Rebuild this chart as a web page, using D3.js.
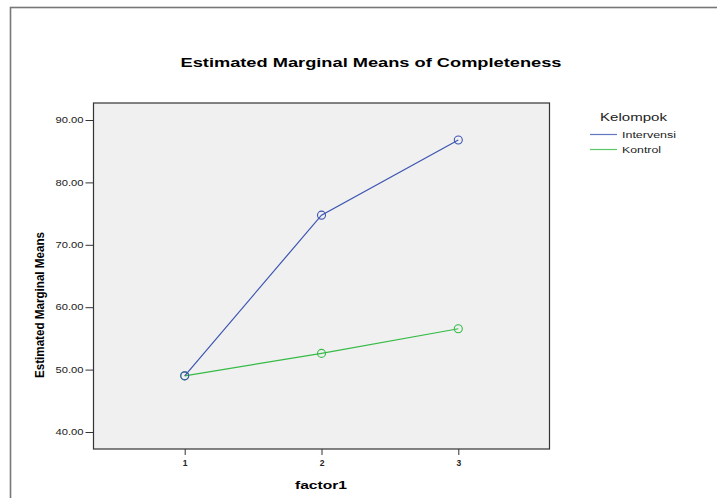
<!DOCTYPE html>
<html><head><meta charset="utf-8">
<script src="https://cdn.jsdelivr.net/npm/d3@7"></script>
<style>body{margin:0;background:#fff}svg{display:block}</style>
</head><body>
<script>
const categories = [1, 2, 3];
const intervensi = [49.0, 74.75, 86.8];
const kontrol = [49.0, 52.6, 56.55];
const yTicks = [40, 50, 60, 70, 80, 90];
const seriesNames = ["Intervensi", "Kontrol"];
const seriesColors = ["#3d55b2", "#35bb45"];

const W = 717, H = 498;
const svg = d3.select("body").append("svg").attr("width", W).attr("height", H);
const font = "Liberation Sans, Arial, sans-serif";

// outer frame
svg.append("rect").attr("x", 10.5).attr("y", 7.5).attr("width", 720).attr("height", 500)
  .attr("fill", "none").attr("stroke", "#777").attr("stroke-width", 1.6);

const L = 93.5, R = 549.5, T = 103, B = 449;
const x = d3.scaleLinear().domain([1/3, 11/3]).range([L, R]);
const y = d3.scaleLinear().domain([40 - 17/6.24, 90 + 17/6.24]).range([B, T]);

svg.append("rect").attr("x", L).attr("y", T).attr("width", R - L).attr("height", B - T)
  .attr("fill", "#f0f0f0").attr("stroke", "#333").attr("stroke-width", 1.2);

// title
svg.append("text").attr("x", 371).attr("y", 67).attr("text-anchor", "middle")
  .attr("font-family", font).attr("font-weight", "bold").attr("font-size", 13)
  .attr("textLength", 381).attr("lengthAdjust", "spacingAndGlyphs")
  .attr("fill", "#000").text("Estimated Marginal Means of Completeness");

// y axis
const yAxis = d3.axisLeft(y).tickValues(yTicks).tickFormat(d3.format(".2f")).tickSize(8).tickPadding(2);
const gy = svg.append("g").attr("transform", `translate(${L},0)`).call(yAxis);
gy.select(".domain").remove();
gy.selectAll("line").attr("stroke", "#333");
gy.selectAll("text").attr("font-family", font).attr("font-size", 8.5).attr("fill", "#222")
  .attr("textLength", 28).attr("lengthAdjust", "spacingAndGlyphs");

// x axis
const xAxis = d3.axisBottom(x).tickValues(categories).tickFormat(d3.format("d")).tickSize(6).tickPadding(5);
const gx = svg.append("g").attr("transform", `translate(0,${B})`).call(xAxis);
gx.select(".domain").remove();
gx.selectAll("line").attr("stroke", "#333");
gx.selectAll("text").attr("font-family", font).attr("font-size", 8.5).attr("font-weight", "bold").attr("fill", "#222");

// axis titles
svg.append("text").attr("x", 321).attr("y", 489).attr("text-anchor", "middle")
  .attr("font-family", font).attr("font-weight", "bold").attr("font-size", 11.5)
  .attr("textLength", 52).attr("lengthAdjust", "spacingAndGlyphs")
  .text("factor1");
svg.append("text").attr("transform", "translate(44,305) rotate(-90)").attr("text-anchor", "middle")
  .attr("font-family", font).attr("font-weight", "bold").attr("font-size", 13)
  .attr("textLength", 146).attr("lengthAdjust", "spacingAndGlyphs")
  .text("Estimated Marginal Means");

// series
const data = [intervensi, kontrol];
const line = d3.line().x((d, i) => x(categories[i])).y(d => y(d));
data.slice().reverse().forEach((vals, ri) => {
  const i = data.length - 1 - ri;
  svg.append("path").datum(vals).attr("d", line).attr("fill", "none")
    .attr("stroke", seriesColors[i]).attr("stroke-width", 1.2);
  svg.selectAll(null).data(vals).enter().append("circle")
    .attr("cx", (d, j) => x(categories[j])).attr("cy", d => y(d)).attr("r", 4)
    .attr("fill", "none").attr("stroke", seriesColors[i]).attr("stroke-width", 1.1);
});

// legend
svg.append("text").attr("x", 600).attr("y", 121).attr("font-family", font).attr("font-size", 10.5)
  .attr("textLength", 67).attr("lengthAdjust", "spacingAndGlyphs")
  .attr("fill", "#222").text("Kelompok");
const legLens = [54, 39];
seriesNames.forEach((n, i) => {
  const yy = 134.5 + i * 15;
  svg.append("line").attr("x1", 590).attr("x2", 617).attr("y1", yy).attr("y2", yy)
    .attr("stroke", seriesColors[i]).attr("stroke-width", 1.2).attr("opacity", 0.8);
  svg.append("text").attr("x", 622).attr("y", yy + 3).attr("font-family", font).attr("font-size", 8.5)
    .attr("textLength", legLens[i]).attr("lengthAdjust", "spacingAndGlyphs")
    .attr("fill", "#222").text(n);
});
</script>
</body></html>
